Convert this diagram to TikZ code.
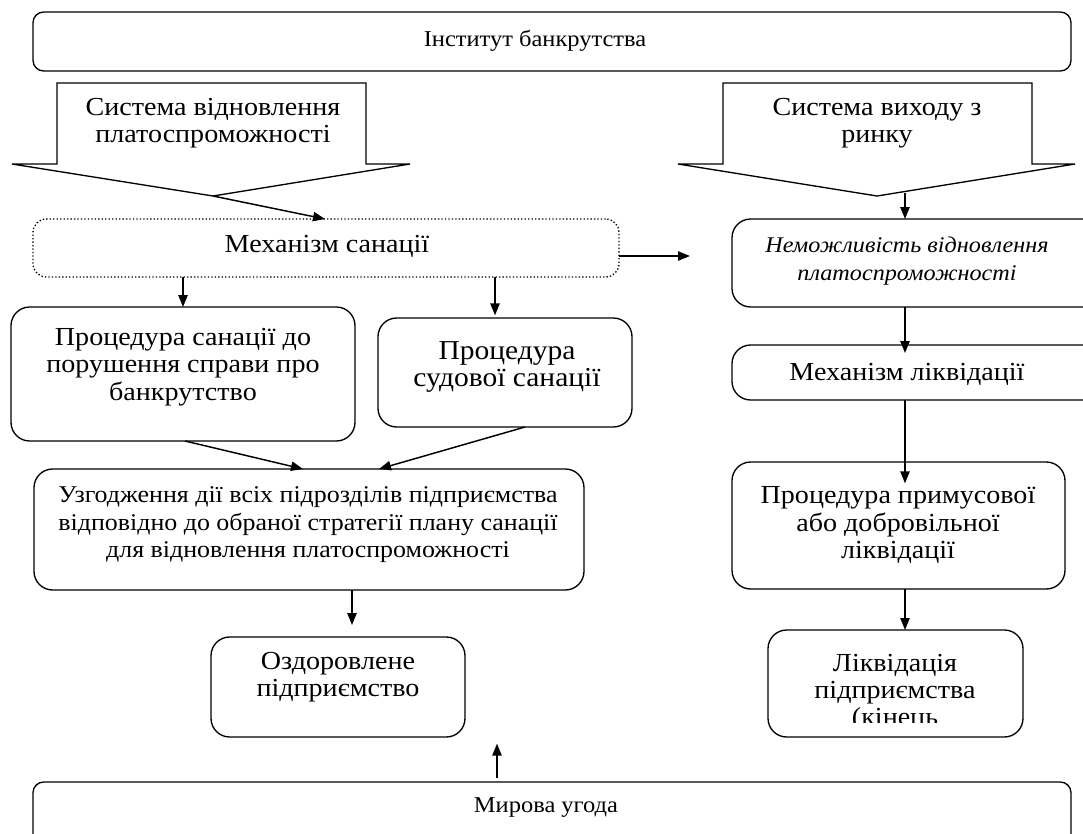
\documentclass[tikz,border=0pt]{standalone}
\usepackage{fontspec}
\setmainfont{Liberation Serif}[FakeStretch=1.08]
\usetikzlibrary{arrows.meta,fit}
\begin{document}
\begin{tikzpicture}[x=0.75pt,y=-0.75pt,
  every node/.style={font=\fontsize{19.5}{20.4}\selectfont},
  small/.style={font=\fontsize{17}{20}\selectfont},
  mid/.style={font=\fontsize{18}{20.6}\selectfont},
  big/.style={font=\fontsize{20.5}{20.8}\selectfont},
  ital/.style={font=\fontsize{16.8}{21}\selectfont\itshape},
  box/.style={draw, line width=1pt, rounded corners=14pt, inner sep=0pt, outer sep=0pt},
  smallbox/.style={draw, line width=1pt, rounded corners=8pt, inner sep=0pt, outer sep=0pt},
  dotbox/.style={draw, line width=1pt, dash pattern=on 1pt off 1.6pt, rounded corners=10pt, inner sep=0pt, outer sep=0pt},
  txt/.style={align=center, inner sep=0pt},
  arr/.style={line width=1.1pt, -{Triangle[length=9pt,width=7pt]}},
  callout/.style={draw, line width=1pt, line join=miter}
]
\clip (0,0) rectangle (1083,833);
\fill[white] (0,0) rectangle (1083,833);

% top box
\node[smallbox, fit={(33,12) (1071,71)}] (inst) {};
\node[txt, small] at (535,41) {Інститут банкрутства};

% callouts
\draw[callout] (57,83) -- (366,83) -- (366,164) -- (410,164) -- (213,196) -- (12,164) -- (57,164) -- cycle;
\node[txt] (sysL) at (213,123) {Система відновлення\\платоспроможності};
\coordinate (tipL) at (213,196);
\draw[callout] (723,83) -- (1032,83) -- (1032,164) -- (1075,164) -- (877,196) -- (678,164) -- (723,164) -- cycle;
\node[txt] (sysR) at (877,123) {Система виходу з\\ринку};
\coordinate (tipR) at (905,193);

% mechanism of sanation
\node[dotbox, fit={(33,219) (619,277)}] (mech) {};
\node[txt] at (327,246) {Механізм санації};

% right column
\node[box, fit={(732,219) (1110,307)}] (imp) {};
\node[txt, ital] at (907,261) {Неможливість відновлення\\платоспроможності};
\node[box, fit={(732,345) (1110,400)}] (liqm) {};
\node[txt] at (907,374) {Механізм ліквідації};
\node[box, fit={(732,462) (1065,589)}] (liqp) {};
\node[txt] at (898,525) {Процедура примусової\\або добровільної\\ліквідації};
\node[box, fit={(768,630) (1023,737)}] (liqe) {};
\begin{scope}
\clip (768,630) rectangle (1023,722);
\node[txt, anchor=north] at (895,654) {Ліквідація\\підприємства\\(кінець};
\end{scope}

% left column
\node[box, fit={(11,307) (355,441)}] (pa) {};
\node[txt] at (183,367) {Процедура санації до\\порушення справи про\\банкрутство};
\node[box, fit={(378,318) (632,427)}] (pb) {};
\node[txt, big] at (507,367) {Процедура\\судової санації};
\node[box, fit={(34,469) (584,590)}] (agr) {};
\node[txt, mid] at (308,525) {Узгодження дії всіх підрозділів підприємства\\відповідно до обраної стратегії плану санації\\для відновлення платоспроможності};
\node[box, fit={(211,637) (465,737)}] (heal) {};
\node[txt] at (338,677) {Оздоровлене\\підприємство};

% bottom box
\node[smallbox, fit={(33,782) (1071,880)}] (peace) {};
\node[txt, small] at (546,808) {Мирова угода};

% helper x coordinates
\coordinate (x183) at (183,0);
\coordinate (x185) at (185,0);
\coordinate (x303) at (303,0);
\coordinate (x325) at (325,0);
\coordinate (x352) at (352,0);
\coordinate (x379) at (379,0);
\coordinate (x495) at (495,0);
\coordinate (x497) at (497,0);
\coordinate (x525) at (525,0);
\coordinate (x905) at (905,0);
\coordinate (y256) at (0,256);
\coordinate (gapEnd) at (690,256);

% connectors
\draw[arr] (tipL) -- (mech.north -| x325);
\draw[arr] (mech.east |- y256) -- (gapEnd);
\draw[arr] (tipR) -- (imp.north -| x905);
\draw[arr] (imp.south -| x905) -- ([yshift=-6pt]liqm.north -| x905);
\draw[arr] (liqm.south -| x905) -- ([yshift=-16pt]liqp.north -| x905);
\draw[arr] (liqp.south -| x905) -- (liqe.north -| x905);
\draw[arr] (mech.south -| x183) -- (pa.north -| x183);
\draw[arr] (mech.south -| x495) -- ([yshift=2pt]pb.north -| x495);
\draw[arr] (pa.south -| x185) -- (agr.north -| x303);
\draw[arr] (pb.south -| x525) -- (agr.north -| x379);
\draw[arr] (agr.south -| x352) -- ([yshift=9pt]heal.north -| x352);
\draw[arr] ([yshift=3pt]peace.north -| x497) -- ([yshift=-5pt]heal.south -| x497);
\end{tikzpicture}
\end{document}
